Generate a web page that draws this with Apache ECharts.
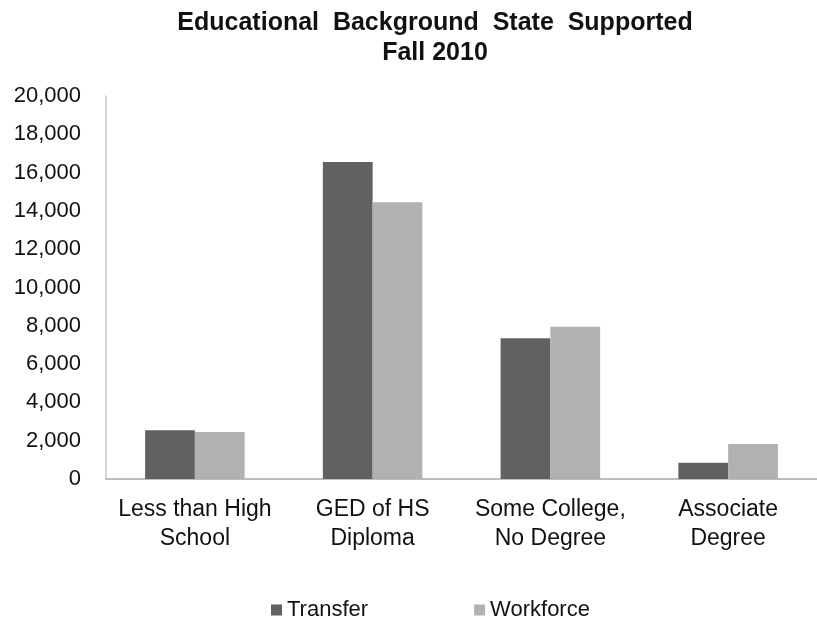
<!DOCTYPE html>
<html><head><meta charset="utf-8">
<script src="https://cdn.jsdelivr.net/npm/echarts@6/dist/echarts.min.js"></script>
<style>html,body{margin:0;padding:0;background:#fff}#c{width:817px;height:620px}</style>
</head><body><div id="c"></div>
<script>
const categories = ["Less than High\nSchool", "GED of HS\nDiploma", "Some College,\nNo Degree", "Associate\nDegree"];
const transfer = [2550, 16550, 7350, 850];
const workforce = [2450, 14450, 7950, 1830];
const yTicks = [0, 2000, 4000, 6000, 8000, 10000, 12000, 14000, 16000, 18000, 20000];

const chart = echarts.init(document.getElementById('c'));
chart.setOption({
  backgroundColor: '#fff',
  animation: false,
  title: {
    text: 'Educational  Background  State  Supported\nFall 2010',
    left: 430, top: 3, textAlign: 'center',
    textStyle: {fontFamily: 'Liberation Sans', fontWeight: 'bold', fontSize: 25, color: '#111', lineHeight: 30}
  },
  legend: {
    top: 594, left: 266, itemGap: 106, itemWidth: 11, itemHeight: 11, icon: 'rect',
    textStyle: {fontFamily: 'Liberation Sans', fontSize: 22, color: '#111'},
    data: ['Transfer', 'Workforce']
  },
  grid: {left: 106, right: 0, top: 96, bottom: 141, containLabel: false},
  xAxis: {
    type: 'category', data: categories,
    axisLine: {lineStyle: {color: '#a8a8a8', width: 1.5}},
    axisTick: {show: false},
    axisLabel: {fontFamily: 'Liberation Sans', fontSize: 23, color: '#111', lineHeight: 29, margin: 16, interval: 0}
  },
  yAxis: {
    type: 'value', min: 0, max: 20000, interval: 2000,
    axisLine: {show: true, lineStyle: {color: '#c8c8c8', width: 1.5}},
    axisTick: {show: false},
    splitLine: {show: false},
    axisLabel: {fontFamily: 'Liberation Sans', fontSize: 22, color: '#111', margin: 25,
      formatter: v => yTicks.includes(v) ? v.toLocaleString('en-US') : ''}
  },
  series: [
    {name: 'Transfer', type: 'bar', data: transfer, barGap: '0%', barCategoryGap: '44%', itemStyle: {color: '#616161'}},
    {name: 'Workforce', type: 'bar', data: workforce, itemStyle: {color: '#b1b1b1'}}
  ]
});
</script></body></html>
